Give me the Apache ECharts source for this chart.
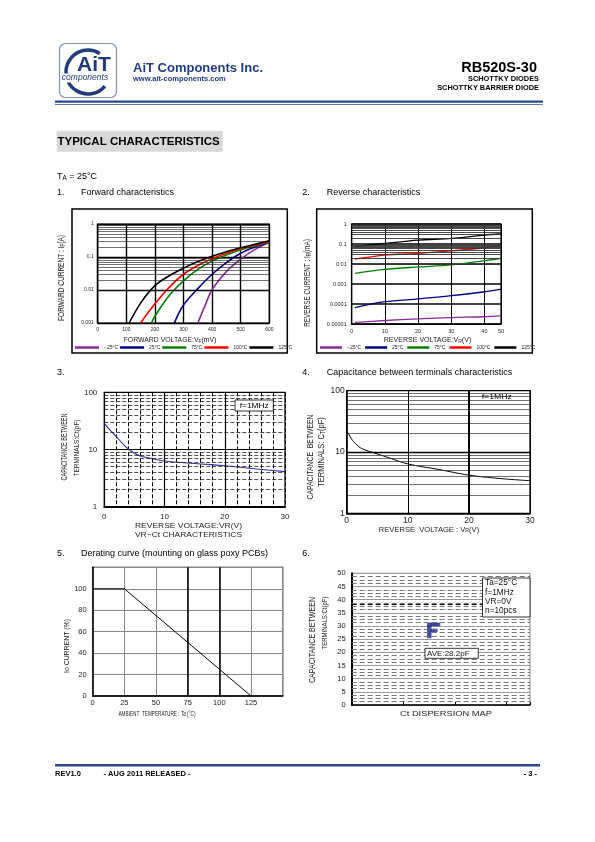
<!DOCTYPE html>
<html><head><meta charset="utf-8">
<script src="https://cdn.jsdelivr.net/npm/echarts@6/dist/echarts.min.js"></script>
<style>html,body{margin:0;padding:0;background:#fff}#c{width:595px;height:842px}</style>
</head><body><div id="c"></div>
<script>
// ---------------- DATA ----------------
const tempNames = ['\u221225\u00B0C', '25\u00B0C', '75\u00B0C', '100\u00B0C', '125\u00B0C'];
const tempColors = ['#8B2A9B', '#00007F', '#008000', '#FF0000', '#000000'];

const fwdTickLabels = ['0.001', '0.01', '0.1', '1'];
const revTickLabels = ['0.00001', '0.0001', '0.001', '0.01', '0.1', '1'];
const capTickLabels = ['1', '10', '100'];

// 1. Forward characteristics (VF in mV, IF in A)
const fwdVm25 = [350, 375, 400, 450, 500, 550, 600];
const fwdIm25 = [0.001, 0.0033, 0.0102, 0.036, 0.086, 0.17, 0.28];
const fwdV25 = [268, 300, 350, 400, 450, 500, 550, 600];
const fwdI25 = [0.001, 0.0035, 0.011, 0.03, 0.068, 0.13, 0.2, 0.28];
const fwdV75 = [188, 200, 250, 300, 350, 400, 450, 500, 550, 600];
const fwdI75 = [0.001, 0.0016, 0.0068, 0.019, 0.042, 0.075, 0.115, 0.165, 0.22, 0.29];
const fwdV100 = [150, 200, 250, 300, 350, 400, 450, 500, 550, 600];
const fwdI100 = [0.001, 0.0038, 0.012, 0.03, 0.055, 0.088, 0.13, 0.18, 0.23, 0.3];
const fwdV125 = [110, 150, 200, 250, 300, 350, 400, 450, 500, 550, 600];
const fwdI125 = [0.001, 0.004, 0.0135, 0.027, 0.046, 0.073, 0.105, 0.145, 0.19, 0.245, 0.31];

// 2. Reverse characteristics (VR in V, IR in mA)
const revV = [1, 10, 20, 30, 40, 45];
const revIm25 = [1.2e-5, 1.5e-5, 1.8e-5, 2.1e-5, 2.3e-5, 2.6e-5];
const revI25 = [6.6e-5, 1.3e-4, 1.8e-4, 2.6e-4, 4.1e-4, 5.6e-4];
const revI75 = [0.0034, 0.0054, 0.0071, 0.009, 0.0146, 0.019];
const revI100 = [0.0178, 0.028, 0.034, 0.045, 0.065, 0.082];
const revI125 = [0.074, 0.108, 0.158, 0.19, 0.28, 0.316];

// 3. VR-Ct characteristics
const ctVr = [0, 1, 2, 3, 4, 5, 6, 8, 10, 15, 20, 25, 30];
const ctPf = [28.7, 21.5, 16.8, 12.8, 10.2, 8.6, 7.7, 6.9, 6.3, 5.7, 5.2, 4.6, 4.1];

// 4. Capacitance between terminals
const ct2Vr = [0, 0.5, 1, 2, 3, 5, 7, 10, 15, 20, 25, 30];
const ct2Pf = [22.3, 18.2, 15.3, 12.2, 10.8, 9.3, 8.0, 6.4, 5.2, 4.2, 3.7, 3.4];

// 5. Derating curve
const derTemp = [0, 25, 125];
const derPct = [100, 100, 0];

// 6. Ct dispersion map (10 pcs)
const dispX = [1.50, 1.56, 1.62, 1.67, 1.50, 1.50, 1.56, 1.62, 1.50, 1.50];
const dispCt = [30.6, 30.6, 30.6, 30.6, 29.5, 28.3, 28.3, 28.3, 27.1, 26.0];
const dispAve = 'AVE:28.2pF';

// ---------------- HELPERS ----------------
const FONT = '"Liberation Sans", Arial, Helvetica, sans-serif';
const NAVY = '#1f3c7c';
const zip = (xs, ys) => xs.map((x, i) => [x, ys[i]]);
const logFmt = (labels, minE) => v => { const s = labels[Math.round(Math.log10(v)) - minE]; return s === undefined ? '' : s; };
function minorLog(minE, maxE) { const out = []; for (let e = minE; e < maxE; e++) for (let k = 2; k <= 9; k++) out.push(+(k * Math.pow(10, e)).toPrecision(3)); return out; }
const mctx = document.createElement('canvas').getContext('2d');
function measure(str, size, weight) { mctx.font = (weight || 'normal') + ' ' + size + 'px ' + FONT; return mctx.measureText(str).width; }
function txt(x, y, str, size, o) {
  o = o || {};
  const plain = str.replace(/\{\w+\|([^}]*)\}/g, '$1');
  const w = measure(plain, size, o.weight);
  const s = o.width ? o.width / w : 1;
  const rich = {};
  if (o.sub) rich.s = { fontSize: size * 0.7, fontFamily: FONT, fontWeight: o.weight || 'normal', fill: o.color || '#000', verticalAlign: 'bottom', padding: [size * 0.35, 0, 0, 0] };
  return { type: 'text', x: x, y: y, rotation: o.rot || 0, scaleX: s, z: 100,
    style: { text: str, fontSize: size, fontFamily: FONT, fontWeight: o.weight || 'normal', fill: o.color || '#000',
      align: o.align || 'center', verticalAlign: 'middle', rich: rich } };
}
const V = Math.PI / 2;
const mk = items => ({ silent: true, symbol: ['none', 'none'], label: { show: false }, animation: false, emphasis: { disabled: true }, data: items });
const hLines = (vals, ls) => vals.map(v => ({ yAxis: v, lineStyle: ls }));
const vLines = (vals, ls) => vals.map(v => ({ xAxis: v, lineStyle: ls }));
function helper(ix, pt, lines) {
  return { type: 'line', xAxisIndex: ix, yAxisIndex: ix, data: [pt], symbol: 'none', lineStyle: { opacity: 0 }, z: 1, silent: true, markLine: mk(lines) };
}
const lbl = (size, extra) => Object.assign({ fontSize: size, fontFamily: FONT, color: '#222' }, extra || {});

// ---------------- SERIES ----------------
const fwdX = [fwdVm25, fwdV25, fwdV75, fwdV100, fwdV125];
const fwdY = [fwdIm25, fwdI25, fwdI75, fwdI100, fwdI125];
const revY = [revIm25, revI25, revI75, revI100, revI125];
const series = [];

series.push(helper(0, [0, 0.001], hLines(minorLog(-3, 0), { color: '#111', width: 0.6, type: 'solid' })));
series.push(helper(1, [0, 1e-5], hLines(minorLog(-5, 0), { color: '#333', width: 0.9, type: 'solid' })));
series.push(helper(2, [0, 1],
  hLines(minorLog(0, 2), { color: '#222', width: 0.8, type: [4, 2] })
    .concat(vLines([10, 20], { color: '#000', width: 1.2, type: 'solid' }))));
series.push(helper(3, [0, 1],
  hLines(minorLog(0, 2), { color: '#333', width: 0.7, type: 'solid' })
    .concat(vLines([20], { color: '#000', width: 2, type: 'solid' }))
    .concat(hLines([10], { color: '#000', width: 1.3, type: 'solid' }))));
series.push(helper(4, [0, 0], vLines([75, 100], { color: '#000', width: 1.5, type: 'solid' })));
(function () {
  const d = [];
  for (let k = 1; k < 40; k++) { const v = k * 1.25; if (Math.abs(v / 5 - Math.round(v / 5)) > 1e-9) d.push(v); }
  series.push(helper(5, [0, 0], hLines(d, { color: '#777', width: 1, type: [5, 3] })
    .concat(hLines([38.2], { color: '#000', width: 1.2, type: [5, 3] }))));
})();

tempNames.forEach((n, i) => {
  series.push({ type: 'line', name: n, xAxisIndex: 0, yAxisIndex: 0, data: zip(fwdX[i], fwdY[i]), smooth: 0.35,
    symbol: 'none', z: 3, lineStyle: { width: 1.6, color: tempColors[i] }, itemStyle: { color: tempColors[i] } });
});
tempNames.forEach((n, i) => {
  series.push({ type: 'line', name: n, xAxisIndex: 1, yAxisIndex: 1, data: zip(revV, revY[i]), smooth: 0.3,
    symbol: 'none', z: 3, lineStyle: { width: 1.3, color: tempColors[i] }, itemStyle: { color: tempColors[i] } });
});
series.push({ type: 'line', name: 'Ct', xAxisIndex: 2, yAxisIndex: 2, data: zip(ctVr, ctPf), smooth: 0.4, symbol: 'none', z: 3,
  lineStyle: { width: 1.1, color: '#33339a' } });
series.push({ type: 'line', name: 'CT', xAxisIndex: 3, yAxisIndex: 3, data: zip(ct2Vr, ct2Pf), smooth: 0.4, symbol: 'none', z: 3,
  lineStyle: { width: 1, color: '#000' } });
series.push({ type: 'line', name: 'Io', xAxisIndex: 4, yAxisIndex: 4, data: zip(derTemp, derPct), symbol: 'none', z: 3,
  lineStyle: { width: 1, color: '#000' } });
series.push({ type: 'scatter', name: 'disp', xAxisIndex: 5, yAxisIndex: 5, data: zip(dispX, dispCt), symbol: 'rect',
  symbolSize: [4.5, 3.5], z: 4, itemStyle: { color: '#1c2a8c' } });

// ---------------- GRAPHIC (page text) ----------------
const g = [];
g.push({ type: 'rect', shape: { x: 59.5, y: 43.5, width: 57, height: 54, r: 6 }, style: { fill: '#fff', stroke: '#7f8fb0', lineWidth: 1.2 }, z: 90 });
g.push({ type: 'arc', shape: { cx: 88, cy: 72, r: 22, startAngle: -0.32 * Math.PI, endAngle: 0.22 * Math.PI, clockwise: false },
  style: { stroke: NAVY, lineWidth: 3.5, fill: null }, z: 91 });
g.push({ type: 'text', x: 94, y: 65, z: 92, style: { text: 'AiT', fontSize: 21, fontWeight: 'bold', fontFamily: FONT, fill: NAVY, stroke: '#fff', lineWidth: 1.5, align: 'center', verticalAlign: 'middle' } });
g.push({ type: 'text', x: 85, y: 78, z: 92, style: { text: 'components', fontSize: 8.5, fontStyle: 'italic', fontFamily: FONT, fill: NAVY, align: 'center', verticalAlign: 'middle', backgroundColor: '#fff' } });
g.push(txt(133, 68.3, 'AiT Components Inc.', 13, { weight: 'bold', align: 'left', color: NAVY }));
g.push(txt(133, 79, 'www.ait-components.com', 7.5, { weight: 'bold', align: 'left', color: NAVY }));
g.push(txt(537, 68, 'RB520S-30', 14.5, { weight: 'bold', align: 'right' }));
g.push(txt(539, 79, 'SCHOTTKY DIODES', 7.4, { weight: 'bold', align: 'right' }));
g.push(txt(539, 87.8, 'SCHOTTKY BARRIER DIODE', 7.4, { weight: 'bold', align: 'right' }));
g.push({ type: 'rect', shape: { x: 55, y: 100.5, width: 488, height: 2.3 }, style: { fill: '#2b4a8b' }, z: 90 });
g.push({ type: 'rect', shape: { x: 55, y: 104.3, width: 488, height: 0.8 }, style: { fill: '#2b4a8b' }, z: 90 });
g.push({ type: 'rect', shape: { x: 56.7, y: 131, width: 166, height: 20.7 }, style: { fill: '#d9d9d9' }, z: 90 });
g.push(txt(57.5, 141.5, 'TYPICAL CHARACTERISTICS', 11.5, { weight: 'bold', align: 'left' }));
g.push(txt(57, 177, 'T{s|A} = 25\u00B0C', 9, { align: 'left', sub: true }));
const heads = [[192.5, '1.', 'Forward characteristics', '2.', 'Reverse characteristics'],
  [373, '3.', '', '4.', 'Capacitance between terminals characteristics'],
  [554, '5.', 'Derating curve (mounting on glass poxy PCBs)', '6.', '']];
heads.forEach(h => {
  g.push(txt(57, h[0], h[1], 9, { align: 'left' }));
  if (h[2]) g.push(txt(81, h[0], h[2], 9, { align: 'left' }));
  g.push(txt(302.3, h[0], h[3], 9, { align: 'left' }));
  if (h[4]) g.push(txt(326.7, h[0], h[4], 9, { align: 'left' }));
});
g.push({ type: 'rect', shape: { x: 72, y: 209, width: 215.3, height: 144 }, style: { fill: null, stroke: '#000', lineWidth: 1.5 }, z: 90 });
g.push({ type: 'rect', shape: { x: 316.7, y: 209, width: 215.6, height: 144 }, style: { fill: null, stroke: '#000', lineWidth: 1.5 }, z: 90 });
g.push(txt(61.5, 278, 'FORWARD CURRENT : I{s|F}(A)', 9, { rot: V, width: 87, sub: true, color: '#222' }));
g.push(txt(170, 340, 'FORWARD VOLTAGE:V{s|F}(mV)', 7, { width: 94, sub: true, color: '#222' }));
g.push(txt(307.5, 283, 'REVERSE CURRENT : I{s|R}(mA)', 9, { rot: V, width: 89, sub: true, color: '#222' }));
g.push(txt(427.5, 340.5, 'REVERSE VOLTAGE:V{s|R}(V)', 7, { width: 89, sub: true, color: '#222' }));
g.push(txt(65, 447, 'CAPACITANCE BETWEEN', 8.5, { rot: V, width: 67, color: '#222' }));
g.push(txt(76.7, 448, 'TERMINALS:Ct(pF)', 8, { rot: V, width: 57, color: '#222' }));
g.push(txt(188.5, 526, 'REVERSE VOLTAGE:VR(V)', 7.5, { width: 107, color: '#222' }));
g.push(txt(188.5, 534.7, 'VR\u2212Ct CHARACTERISTICS', 7.5, { width: 107, color: '#222' }));
g.push({ type: 'rect', shape: { x: 235, y: 400, width: 38.3, height: 11 }, style: { fill: '#fff', stroke: '#000', lineWidth: 0.8 }, z: 99 });
g.push(txt(254.2, 405.6, 'f=1MHz', 7, { width: 29 }));
g.push(txt(310, 457, 'CAPACITANCE  BETWEEN', 9.5, { rot: V, width: 85, color: '#222' }));
g.push(txt(321.7, 452, 'TERMINALS: C{s|T}(pF)', 9, { rot: V, width: 71, sub: true, color: '#222' }));
g.push(txt(429, 530, 'REVERSE  VOLTAGE : V{s|R}(V)', 6.8, { width: 102, sub: true, color: '#222' }));
g.push(txt(496.7, 397, 'f=1MHz', 7, { width: 30 }));
g.push(txt(67.7, 646, 'Io CURRENT (%)', 6.5, { rot: V, width: 54, color: '#222' }));
g.push(txt(157, 714, 'AMBIENT  TEMPERATURE : Ta (\u00B0C)', 7, { width: 77, color: '#222' }));
g.push(txt(313, 640, 'CAPACITANCE BETWEEN', 9, { rot: V, width: 86, color: '#222' }));
g.push(txt(324.5, 623, 'TERMINALS:Ct(pF)', 8, { rot: V, width: 53, color: '#222' }));
g.push(txt(446, 714, 'Ct DISPERSION MAP', 7.5, { width: 92, color: '#222' }));
g.push({ type: 'rect', shape: { x: 482.5, y: 578, width: 47.5, height: 39 }, style: { fill: '#fff', stroke: '#000', lineWidth: 0.8 }, z: 99 });
['Ta=25\u00B0C', 'f=1MHz', 'VR=0V', 'n=10pcs'].forEach((t, i) => g.push(txt(485, 583.2 + i * 9.1, t, 8.3, { align: 'left', color: '#111' })));
g.push({ type: 'rect', shape: { x: 425, y: 648.3, width: 53.3, height: 10 }, style: { fill: '#fff', stroke: '#000', lineWidth: 0.8 }, z: 99 });
g.push(txt(427, 653.4, dispAve, 8, { align: 'left', color: '#111' }));
g.push({ type: 'rect', shape: { x: 55, y: 764, width: 485, height: 2.6 }, style: { fill: '#2b4a8b' }, z: 90 });
g.push(txt(55, 774, 'REV1.0', 7.5, { weight: 'bold', align: 'left' }));
g.push(txt(103.5, 774, '- AUG 2011 RELEASED -', 7.5, { weight: 'bold', align: 'left' }));
g.push(txt(537, 774, '- 3 -', 7.5, { weight: 'bold', align: 'right' }));

// ---------------- OPTION ----------------
const blackSplit = w => ({ show: true, lineStyle: { color: '#000', width: w } });
const option = {
  animation: false,
  backgroundColor: '#fff',
  textStyle: { fontFamily: FONT },
  grid: [
    { left: 97.7, top: 224, width: 171.6, height: 99, show: true, borderColor: '#000', borderWidth: 1.2 },
    { left: 351.7, top: 224, width: 149.3, height: 100, show: true, borderColor: '#000', borderWidth: 1.2 },
    { left: 104.3, top: 392.3, width: 180.7, height: 114.4, show: true, borderColor: '#000', borderWidth: 1.2 },
    { left: 346.7, top: 390.7, width: 183.3, height: 122.6, show: true, borderColor: '#000', borderWidth: 1.2 },
    { left: 92.7, top: 567.3, width: 190, height: 128.7, show: true, borderColor: '#000', borderWidth: 1.2 },
    { left: 351.7, top: 573.3, width: 178.3, height: 131.7, show: true, borderColor: '#888', borderWidth: 1 }
  ],
  xAxis: [
    { gridIndex: 0, type: 'value', min: 0, max: 600, interval: 100, axisLine: { show: true, lineStyle: { color: '#000', width: 1.2 } }, axisTick: { show: false }, axisLabel: lbl(5, { margin: 4 }), splitLine: blackSplit(1.4) },
    { gridIndex: 1, type: 'value', min: 0, max: 45, interval: 10, axisLine: { show: true, lineStyle: { color: '#000', width: 1.2 } }, axisTick: { show: false }, axisLabel: lbl(5.5, { margin: 4, showMaxLabel: true, formatter: v => v === 45 ? '50' : String(v) }), splitLine: blackSplit(1) },
    { gridIndex: 2, type: 'value', min: 0, max: 30, interval: 2, axisLine: { show: true, lineStyle: { color: '#000', width: 2 } }, axisTick: { show: false }, axisLabel: lbl(8, { margin: 6, formatter: v => (v % 10 === 0 ? String(v) : '') }), splitLine: { show: true, lineStyle: { color: '#000', width: 1, type: [4, 2] } } },
    { gridIndex: 3, type: 'value', min: 0, max: 30, interval: 10, axisLine: { show: true, lineStyle: { color: '#000', width: 1.5 } }, axisTick: { show: false }, axisLabel: lbl(8.5, { margin: 3 }), splitLine: blackSplit(1) },
    { gridIndex: 4, type: 'value', min: 0, max: 150, interval: 25, axisLine: { show: true, lineStyle: { color: '#000', width: 1.5 } }, axisTick: { show: false }, axisLabel: lbl(7.5, { margin: 3, formatter: v => (v === 150 ? '' : String(v)) }), splitLine: { show: true, lineStyle: { color: '#888', width: 1 } } },
    { gridIndex: 5, type: 'value', min: 0, max: 3.45, interval: 1, axisLine: { show: true, lineStyle: { color: '#000', width: 1.5 } }, axisTick: { show: true, inside: true, length: 3, lineStyle: { color: '#000' } }, axisLabel: { show: false }, splitLine: { show: false } }
  ],
  yAxis: [
    { gridIndex: 0, type: 'log', min: 0.001, max: 1, axisLine: { show: true, lineStyle: { color: '#000', width: 1.2 } }, axisTick: { show: false }, axisLabel: lbl(5, { margin: 4, formatter: logFmt(fwdTickLabels, -3) }), splitLine: blackSplit(1.4) },
    { gridIndex: 1, type: 'log', min: 1e-5, max: 1, axisLine: { show: true, lineStyle: { color: '#000', width: 1.2 } }, axisTick: { show: false }, axisLabel: lbl(5.5, { margin: 5, formatter: logFmt(revTickLabels, -5) }), splitLine: blackSplit(1.6) },
    { gridIndex: 2, type: 'log', min: 1, max: 100, axisLine: { show: true, lineStyle: { color: '#000', width: 1.2 } }, axisTick: { show: false }, axisLabel: lbl(8, { margin: 7, formatter: logFmt(capTickLabels, 0) }), splitLine: blackSplit(1) },
    { gridIndex: 3, type: 'log', min: 1, max: 100, axisLine: { show: true, lineStyle: { color: '#000', width: 1.5 } }, axisTick: { show: false }, axisLabel: lbl(8.5, { margin: 2, formatter: logFmt(capTickLabels, 0) }), splitLine: blackSplit(1) },
    { gridIndex: 4, type: 'value', min: 0, max: 120, interval: 20, axisLine: { show: true, lineStyle: { color: '#000', width: 1.5 } }, axisTick: { show: false }, axisLabel: lbl(7.5, { margin: 6, formatter: v => (v === 120 ? '' : String(v)) }), splitLine: { show: true, lineStyle: { color: '#888', width: 1 } } },
    { gridIndex: 5, type: 'value', min: 0, max: 50, interval: 5, axisLine: { show: true, lineStyle: { color: '#000', width: 2 } }, axisTick: { show: false }, axisLabel: lbl(7.5, { margin: 6 }), splitLine: { show: true, lineStyle: { color: '#999', width: 1 } } }
  ],
  legend: [
    { data: tempNames, left: 75, top: 345, padding: 0, itemWidth: 24, itemHeight: 2.5, itemGap: 2, icon: 'rect', selectedMode: false, textStyle: { fontSize: 5, fontFamily: FONT, color: '#222' } },
    { data: tempNames, left: 320, top: 345, padding: 0, itemWidth: 22, itemHeight: 2.5, itemGap: 4, icon: 'rect', selectedMode: false, textStyle: { fontSize: 5, fontFamily: FONT, color: '#222' } }
  ],
  graphic: { elements: g },
  series: series
};
const chart = echarts.init(document.getElementById('c'), null, { renderer: 'canvas', width: 595, height: 842 });
chart.setOption(option);
</script>
</body></html>
